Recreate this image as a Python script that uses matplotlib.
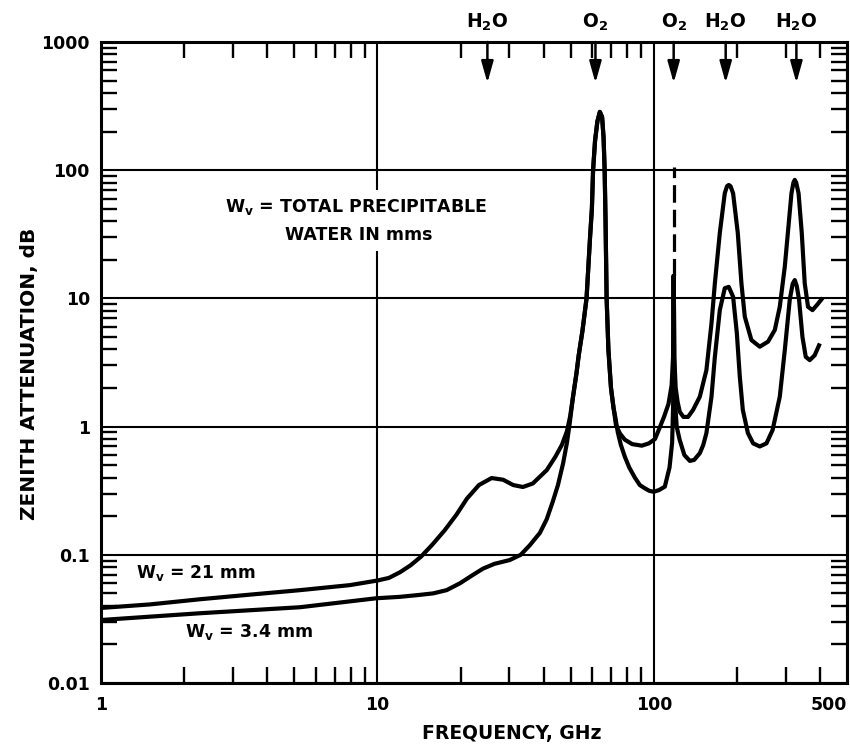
import numpy as np
import matplotlib
matplotlib.use("Agg")
import matplotlib.pyplot as plt
from matplotlib.ticker import FixedLocator, LogLocator, NullFormatter

# ----------------------
# Data
# ----------------------
# W_v = 21 mm (upper curve at low frequency)
freq_21 = [1, 1.5, 2.28, 3.5, 5.25, 7.95, 10, 11, 12.06, 13.2,
           14.4, 15.8, 17.5, 19.3, 21.1, 23.3, 25.9, 28.5, 31, 33.6,
           36.5, 41, 44, 46.5, 48.5, 49.8, 51, 52.5, 53.5, 55.2,
           57.1, 58.8, 59.7, 60.3, 61.3, 62.5, 63.8, 65, 65.8, 66.4,
           66.9, 67.5, 68.5, 70, 71.5, 73, 75.5, 78.6, 83.5, 90.5,
           96, 101, 105, 109, 113, 116, 117.4, 117.9, 118.1, 118.6,
           120, 122, 124.2, 128, 133, 138.7, 146.7, 155, 161.7, 166.3,
           173.3, 180.6, 184, 186.7, 189.5, 193.6, 201.3, 207.5, 213.4, 225.5,
           241.8, 259, 274, 285.6, 297.8, 305.5, 314.8, 320, 323.6, 327.5,
           334, 343, 351.6, 361.4, 375, 389.6, 403.9]
att_21 = [0.0385, 0.041, 0.045, 0.049, 0.053, 0.058, 0.063, 0.066, 0.073, 0.083,
          0.097, 0.12, 0.155, 0.205, 0.275, 0.35, 0.397, 0.385, 0.35, 0.338,
          0.36, 0.458, 0.58, 0.72, 0.92, 1.2, 1.7, 2.6, 3.6, 5.6,
          10, 30, 50, 100, 170, 240, 285, 260, 180, 100,
          40, 10, 4, 2, 1.4, 1.02, 0.88, 0.79, 0.73, 0.71,
          0.74, 0.8, 0.98, 1.2, 1.5, 2.1, 3.5, 15, 15, 3.5,
          2.0, 1.55, 1.3, 1.19, 1.19, 1.35, 1.71, 2.76, 6.4, 13.1,
          32.4, 66, 75, 76.7, 75, 66, 32.4, 13.1, 7.2, 4.73,
          4.2, 4.6, 5.67, 8.6, 17.7, 32.4, 66, 80, 84, 80,
          66, 32.4, 13.1, 8.6, 8.1, 8.9, 9.8]

# W_v = 3.4 mm (lower curve at low frequency)
freq_34 = [1, 2.28, 5.25, 9.9, 12.06, 14, 15.9, 17.8, 19.9, 22,
           24.1, 26.5, 30.1, 33, 35.5, 38.7, 41, 43.1, 45, 47,
           48.5, 49.6, 51, 52.5, 53.5, 55.2, 57.1, 58.8, 59.7, 60.3,
           61.3, 62.5, 63.8, 65, 65.8, 66.4, 66.9, 67.5, 68.5, 70,
           71.5, 72.5, 74.1, 76, 78.6, 81.5, 85.4, 89, 92.8, 96.5,
           100, 104.5, 109.6, 114, 116.5, 117.5, 117.9, 118.1, 118.6, 119.5,
           121, 124, 129, 135, 140, 146.7, 151, 155, 161.7, 166.3,
           173.3, 180.6, 186.7, 193.6, 199.7, 204.7, 209.9, 219, 228.7, 241.8,
           255.6, 269, 285.6, 297.8, 310.4, 318, 323.6, 329, 335.3, 345,
           354.6, 366.6, 382, 396]
att_34 = [0.031, 0.035, 0.039, 0.0458, 0.047, 0.0485, 0.05, 0.053, 0.06, 0.069,
          0.078, 0.085, 0.091, 0.1, 0.118, 0.148, 0.19, 0.26, 0.35, 0.52,
          0.75, 1.05, 1.7, 2.6, 3.6, 5.6, 10, 30, 50, 100,
          170, 240, 285, 260, 180, 100, 40, 10, 4, 2,
          1.4, 1.2, 0.9, 0.72, 0.58, 0.48, 0.40, 0.35, 0.33, 0.315,
          0.31, 0.32, 0.34, 0.48, 0.75, 1.5, 15, 15, 3, 1.5,
          1.0, 0.79, 0.6, 0.54, 0.55, 0.62, 0.72, 0.89, 1.71, 3.5,
          8.1, 12.0, 12.3, 10.3, 5.37, 2.45, 1.35, 0.89, 0.74, 0.70,
          0.74, 0.94, 1.71, 3.95, 9.8, 13, 13.9, 12.5, 9.8, 5.0,
          3.5, 3.3, 3.6, 4.3]

# absorption lines marked at the top
line_freqs = [25, 61.5, 118, 182, 328]
line_names = ["$H_2O$", "$O_2$", "$O_2$", "$H_2O$", "$H_2O$"]

# 118 GHz line drawn dashed above the curves
dash_freq = 118
dash_span = [15, 106]

x_ticks = [1, 10, 100, 500]
x_tick_labels = ["1", "10", "100", "500"]
y_ticks = [0.01, 0.1, 1, 10, 100, 1000]
y_tick_labels = ["0.01", "0.1", "1", "10", "100", "1000"]

# ----------------------
# Style
# ----------------------
plt.rcParams['font.family'] = ['DejaVu Sans']
plt.rcParams['font.weight'] = 'bold'
plt.rcParams['mathtext.default'] = 'bf'

fig = plt.figure(figsize=(8.5, 7.46), dpi=100)
ax = fig.add_axes([101 / 850, 1 - 683 / 746, 746 / 850, 641 / 746])

ax.set_xscale('log')
ax.set_yscale('log')
ax.set_xlim(1, 500)
ax.set_ylim(0.01, 1000)

# ----------------------
# Curves
# ----------------------
ax.plot(freq_21, att_21, color='black', lw=3.0, solid_joinstyle='round', zorder=3)
ax.plot(freq_34, att_34, color='black', lw=3.0, solid_joinstyle='round', zorder=3)
ax.plot([dash_freq, dash_freq], dash_span, color='black', lw=2.3,
        ls=(0, (5.5, 2.2)), zorder=3)

# ----------------------
# Axes, ticks, grid
# ----------------------
ax.xaxis.set_major_locator(FixedLocator(x_ticks))
ax.set_xticklabels(x_tick_labels)
ax.yaxis.set_major_locator(FixedLocator(y_ticks))
ax.set_yticklabels(y_tick_labels)
ax.xaxis.set_minor_locator(LogLocator(base=10, subs=np.arange(2, 10)))
ax.yaxis.set_minor_locator(LogLocator(base=10, subs=np.arange(2, 10)))
ax.xaxis.set_minor_formatter(NullFormatter())
ax.yaxis.set_minor_formatter(NullFormatter())

ax.tick_params(which='major', length=0, labelsize=12.5)
ax.tick_params(axis='x', which='major', pad=9)
ax.tick_params(axis='y', which='major', pad=8)
ax.tick_params(which='minor', direction='in', length=11.5, width=1.7,
               top=True, right=True, bottom=True, left=True)
ax.get_xticklabels()[-1].set_horizontalalignment('right')

ax.grid(which='major', color='black', lw=1.5)
ax.set_axisbelow(True)
for sp in ax.spines.values():
    sp.set_linewidth(2.2)

fig.text(30 / 850, 1 - 374 / 746, "ZENITH ATTENUATION, dB", rotation=90,
         ha='center', va='center', fontsize=14.5)
fig.text(512 / 850, 1 - 733 / 746, "FREQUENCY, GHz",
         ha='center', va='center', fontsize=13.5)

# ----------------------
# Line markers at the top
# ----------------------
for f, name in zip(line_freqs, line_names):
    ax.annotate('', xy=(f, 480), xytext=(f, 1000),
                arrowprops=dict(arrowstyle='-|>,head_length=1.0,head_width=0.28',
                                mutation_scale=13, lw=1.8, color='black',
                                shrinkA=0, shrinkB=0))
    ax.text(f, 1.031, name, transform=ax.get_xaxis_transform(),
            ha='center', va='center', fontsize=13.5, clip_on=False)

# ----------------------
# Annotations
# ----------------------
box = dict(facecolor='white', edgecolor='none', pad=5)
ax.text(0.166, 0.742, "$W_v$ = TOTAL PRECIPITABLE", transform=ax.transAxes,
        ha='left', va='center', fontsize=12.5, bbox=box, zorder=4)
ax.text(0.246, 0.699, "WATER IN mms", transform=ax.transAxes,
        ha='left', va='center', fontsize=12.5, bbox=box, zorder=4)
ax.text(0.047, 0.172, "$W_v$ = 21 mm", transform=ax.transAxes,
        ha='left', va='center', fontsize=12.3)
ax.text(0.113, 0.080, "$W_v$ = 3.4 mm", transform=ax.transAxes,
        ha='left', va='center', fontsize=12.5)

fig.savefig("out.png", dpi=100)
